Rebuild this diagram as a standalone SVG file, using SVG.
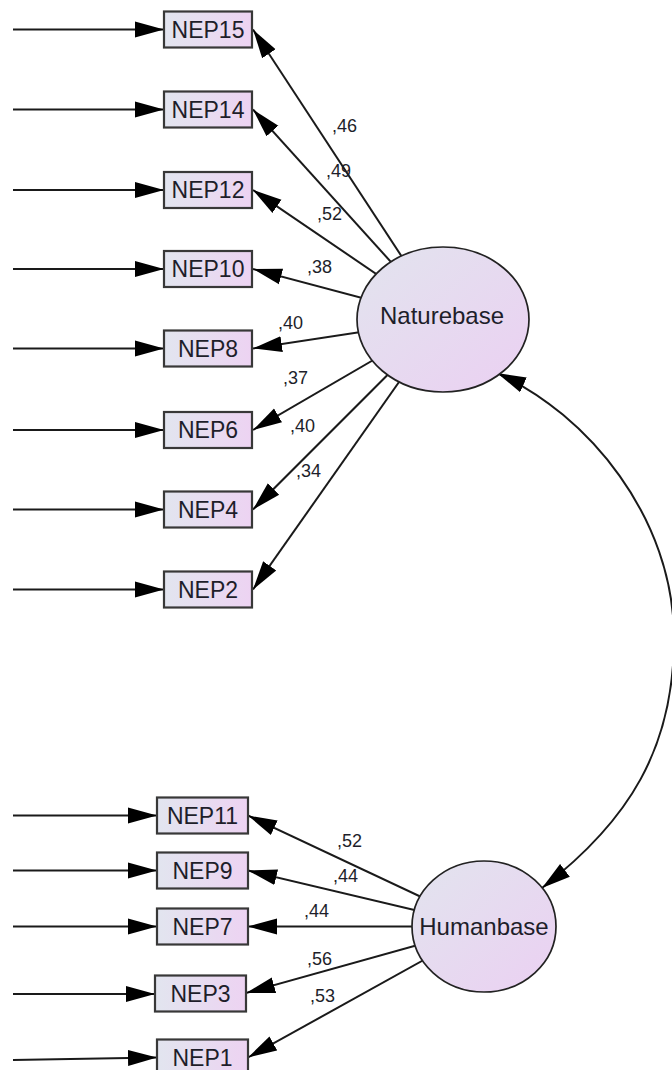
<svg xmlns="http://www.w3.org/2000/svg" width="672" height="1070" viewBox="0 0 672 1070">
  <style>
    .box { fill: url(#boxFill); stroke: #383838; stroke-width: 2.2; }
    .lat { fill: url(#latFill); stroke: #222; stroke-width: 1.7; }
    .lbl { font-family: "Liberation Sans", Arial, sans-serif; font-size: 23px; fill: #1e1e2a; text-anchor: middle; }
    .latlbl { font-family: "Liberation Sans", Arial, sans-serif; font-size: 24px; fill: #1e1e2a; text-anchor: middle; }
    .coef { font-family: "Liberation Sans", Arial, sans-serif; font-size: 18px; fill: #1e1e2a; }
    .path { fill: none; stroke: #1a1a1a; stroke-width: 2; marker-end: url(#ah); }
    .cov { fill: none; stroke: #1a1a1a; stroke-width: 2; marker-start: url(#ah); marker-end: url(#ah); }
  </style>
  <defs>
    <linearGradient id="boxFill" x1="0" y1="0" x2="1" y2="0">
      <stop offset="0" stop-color="#e2e5ef"/>
      <stop offset="1" stop-color="#edd3f2"/>
    </linearGradient>
    <linearGradient id="latFill" x1="0" y1="0" x2="1" y2="1">
      <stop offset="0" stop-color="#e2e4ee"/>
      <stop offset="1" stop-color="#ebd0f2"/>
    </linearGradient>
    <marker id="ah" markerUnits="userSpaceOnUse" markerWidth="30" markerHeight="18" viewBox="0 -9 30 18" refX="29" refY="0" orient="auto-start-reverse">
      <path d="M0,-8 L29,0 L0,8 Z" fill="#000"/>
    </marker>
  </defs>

  <g id="connectors">
    <!-- error terms into the indicators -->
    <path class="path" d="M13,29.5 H164"/>
    <path class="path" d="M13,109.5 H164"/>
    <path class="path" d="M13,190 H164"/>
    <path class="path" d="M13,269 H164"/>
    <path class="path" d="M13,348.5 H164"/>
    <path class="path" d="M13,430 H164"/>
    <path class="path" d="M13,509.5 H164"/>
    <path class="path" d="M13,589.5 H164"/>
    <path class="path" d="M13,815.5 H157"/>
    <path class="path" d="M13,870.5 H157"/>
    <path class="path" d="M13,926.5 H157"/>
    <path class="path" d="M13,994 H155"/>
    <path class="path" d="M13,1060 L157,1057.5"/>

    <!-- loadings from Naturebase (drawn from its centre, hidden under the ellipse) -->
    <path class="path" d="M443,319.5 L253,29.5"/>
    <path class="path" d="M443,319.5 L253,109.5"/>
    <path class="path" d="M443,319.5 L253,190"/>
    <path class="path" d="M443,319.5 L253,269"/>
    <path class="path" d="M443,319.5 L253,348.5"/>
    <path class="path" d="M443,319.5 L253,430"/>
    <path class="path" d="M443,319.5 L253,509.5"/>
    <path class="path" d="M443,319.5 L253,589.5"/>

    <!-- loadings from Humanbase -->
    <path class="path" d="M484,926.5 L248,815.5"/>
    <path class="path" d="M484,926.5 L248,870.5"/>
    <path class="path" d="M484,926.5 L248,926.5"/>
    <path class="path" d="M484,926.5 L246,993"/>
    <path class="path" d="M484,926.5 L248,1057.5"/>

    <!-- covariance between the two factors -->
    <path class="cov" d="M497,373 C588,414 674,518 674,638 C674,748 629,821 542,888"/>
  </g>

  <g id="Naturebase">
    <ellipse class="lat" cx="443" cy="319.5" rx="86" ry="72.5"/>
    <text class="latlbl" x="442" y="324">Naturebase</text>
  </g>
  <g id="Humanbase">
    <ellipse class="lat" cx="484" cy="926.5" rx="72" ry="65.5"/>
    <text class="latlbl" x="484" y="935">Humanbase</text>
  </g>

  <g id="NEP15"><rect class="box" x="164" y="11.5" width="88" height="36"/><text class="lbl" x="208" y="37.5">NEP15</text></g>
  <g id="NEP14"><rect class="box" x="164" y="91.5" width="88" height="36"/><text class="lbl" x="208" y="117.5">NEP14</text></g>
  <g id="NEP12"><rect class="box" x="164" y="172" width="88" height="36"/><text class="lbl" x="208" y="198">NEP12</text></g>
  <g id="NEP10"><rect class="box" x="164" y="251" width="88" height="36"/><text class="lbl" x="208" y="277">NEP10</text></g>
  <g id="NEP8"><rect class="box" x="164" y="330.5" width="88" height="36"/><text class="lbl" x="208" y="356.5">NEP8</text></g>
  <g id="NEP6"><rect class="box" x="164" y="412" width="88" height="36"/><text class="lbl" x="208" y="438">NEP6</text></g>
  <g id="NEP4"><rect class="box" x="164" y="491.5" width="88" height="36"/><text class="lbl" x="208" y="517.5">NEP4</text></g>
  <g id="NEP2"><rect class="box" x="164" y="571.5" width="88" height="36"/><text class="lbl" x="208" y="597.5">NEP2</text></g>

  <g id="NEP11"><rect class="box" x="157" y="797.5" width="91" height="36"/><text class="lbl" x="202.5" y="823.5">NEP11</text></g>
  <g id="NEP9"><rect class="box" x="157" y="852.5" width="91" height="36"/><text class="lbl" x="202.5" y="878.5">NEP9</text></g>
  <g id="NEP7"><rect class="box" x="157" y="908.5" width="91" height="36"/><text class="lbl" x="202.5" y="934.5">NEP7</text></g>
  <g id="NEP3"><rect class="box" x="155" y="975.5" width="91" height="36"/><text class="lbl" x="200.5" y="1001.5">NEP3</text></g>
  <g id="NEP1"><rect class="box" x="157" y="1039.5" width="91" height="36"/><text class="lbl" x="202.5" y="1065.5">NEP1</text></g>

  <g id="coefficients">
    <text class="coef" x="332" y="132">,46</text>
    <text class="coef" x="326" y="177">,49</text>
    <text class="coef" x="317" y="220">,52</text>
    <text class="coef" x="307" y="273">,38</text>
    <text class="coef" x="278" y="329">,40</text>
    <text class="coef" x="283" y="384">,37</text>
    <text class="coef" x="290" y="432">,40</text>
    <text class="coef" x="296" y="477">,34</text>
    <text class="coef" x="337" y="847">,52</text>
    <text class="coef" x="333" y="882">,44</text>
    <text class="coef" x="304" y="917">,44</text>
    <text class="coef" x="307" y="965">,56</text>
    <text class="coef" x="310" y="1002">,53</text>
  </g>
</svg>
